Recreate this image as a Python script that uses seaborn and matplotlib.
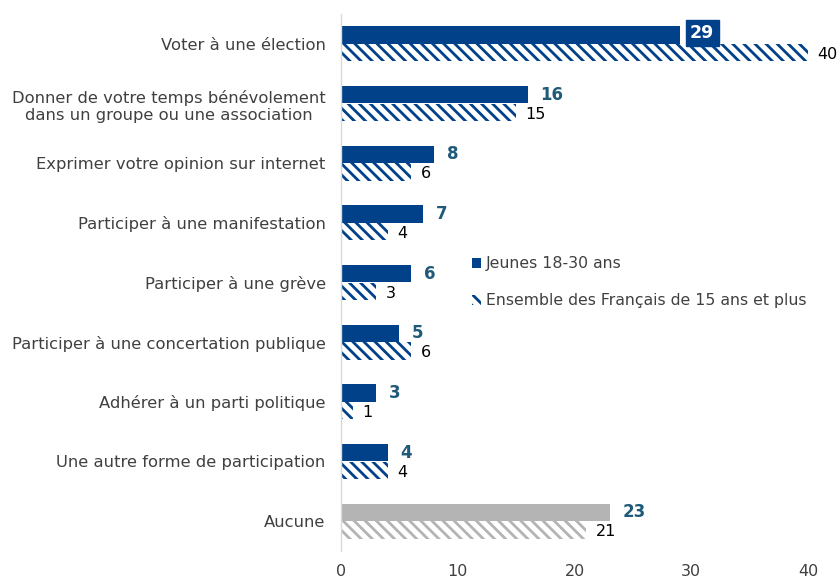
import matplotlib
matplotlib.use("Agg")
import matplotlib.pyplot as plt
import seaborn as sns
import pandas as pd
from matplotlib.patches import Patch

# Données
CATEGORIES = [
    "Voter à une élection",
    "Donner de votre temps bénévolement\ndans un groupe ou une association",
    "Exprimer votre opinion sur internet",
    "Participer à une manifestation",
    "Participer à une grève",
    "Participer à une concertation publique",
    "Adhérer à un parti politique",
    "Une autre forme de participation",
    "Aucune",
]
JEUNES = [29, 16, 8, 7, 6, 5, 3, 4, 23]
ENSEMBLE = [40, 15, 6, 4, 3, 6, 1, 4, 21]
SERIES = ["Jeunes 18-30 ans", "Ensemble des Français de 15 ans et plus"]
XTICKS = [0, 10, 20, 30, 40]

BLUE = "#004189"
GREY = "#b4b4b4"
TEAL = "#1f5a78"
TXT = "#404040"
HATCH = "\\" * 3

df = pd.DataFrame({
    "cat": CATEGORIES * 2,
    "val": JEUNES + ENSEMBLE,
    "serie": [SERIES[0]] * len(CATEGORIES) + [SERIES[1]] * len(CATEGORIES),
})

sns.set_style("white")
plt.rcParams["font.family"] = ["DejaVu Sans"]
plt.rcParams["hatch.linewidth"] = 2.0

fig = plt.figure(figsize=(8.39, 5.79), dpi=100)
ax = fig.add_axes([341 / 839, 1 - 551 / 579, (808 - 341) / 839, (551 - 14) / 579])

sns.barplot(data=df, y="cat", x="val", hue="serie", orient="h",
            palette=[BLUE, BLUE], width=0.6, gap=0.03, ax=ax, legend=False)

n = len(CATEGORIES)
patches = ax.patches
for i, p in enumerate(patches[:n]):
    col = GREY if CATEGORIES[i] == "Aucune" else BLUE
    p.set_facecolor(col)
    p.set_edgecolor(col)
    p.set_linewidth(0)
for i, p in enumerate(patches[n:2 * n]):
    col = GREY if CATEGORIES[i] == "Aucune" else BLUE
    p.set_facecolor("white")
    p.set_edgecolor(col)
    p.set_hatch(HATCH)
    p.set_linewidth(0)

# Étiquettes de valeurs
for i, p in enumerate(patches[:n]):
    y = p.get_y() + p.get_height() / 2
    v = JEUNES[i]
    if i == 0:
        ax.text(v + 0.9, y - 0.03, str(v), color="white", fontsize=12.5, fontweight="bold",
                va="center", ha="left",
                bbox=dict(boxstyle="square,pad=0.25", fc=BLUE, ec=BLUE))
    else:
        ax.text(v + 1.1, y, str(v), color=TEAL, fontsize=12, fontweight="bold",
                va="center", ha="left")
for i, p in enumerate(patches[n:2 * n]):
    y = p.get_y() + p.get_height() / 2 + 0.03
    v = ENSEMBLE[i]
    ax.text(v + 0.8, y, str(v), color="black", fontsize=11.5,
            va="center", ha="left", clip_on=False)

ax.set_xlim(0, 40)
ax.set_ylim(n - 0.5, -0.5)
ax.set_xticks(XTICKS)
ax.set_xticklabels([str(t) for t in XTICKS], fontsize=11.5, color=TXT)
ax.tick_params(axis="x", length=0, pad=9)
ax.tick_params(axis="y", length=0, pad=11)
for lab in ax.get_yticklabels():
    lab.set_fontsize(11.8)
    lab.set_color(TXT)
    lab.set_multialignment("center")
ax.set_xlabel("")
ax.set_ylabel("")
for s in ["top", "right", "bottom"]:
    ax.spines[s].set_visible(False)
ax.spines["left"].set_color("#d9d9d9")
ax.spines["left"].set_linewidth(1)

# Légende
handles = [
    Patch(facecolor=BLUE, edgecolor=BLUE, linewidth=0),
    Patch(facecolor="white", edgecolor=BLUE, hatch=HATCH, linewidth=0),
]
leg = ax.legend(handles, SERIES, loc="upper left", bbox_to_anchor=(0.25, 0.575),
                frameon=False, handlelength=0.6, handleheight=0.6, handletextpad=0.3,
                labelspacing=1.4, fontsize=11.3)
for t in leg.get_texts():
    t.set_color(TXT)

fig.savefig("out.png", dpi=100)
